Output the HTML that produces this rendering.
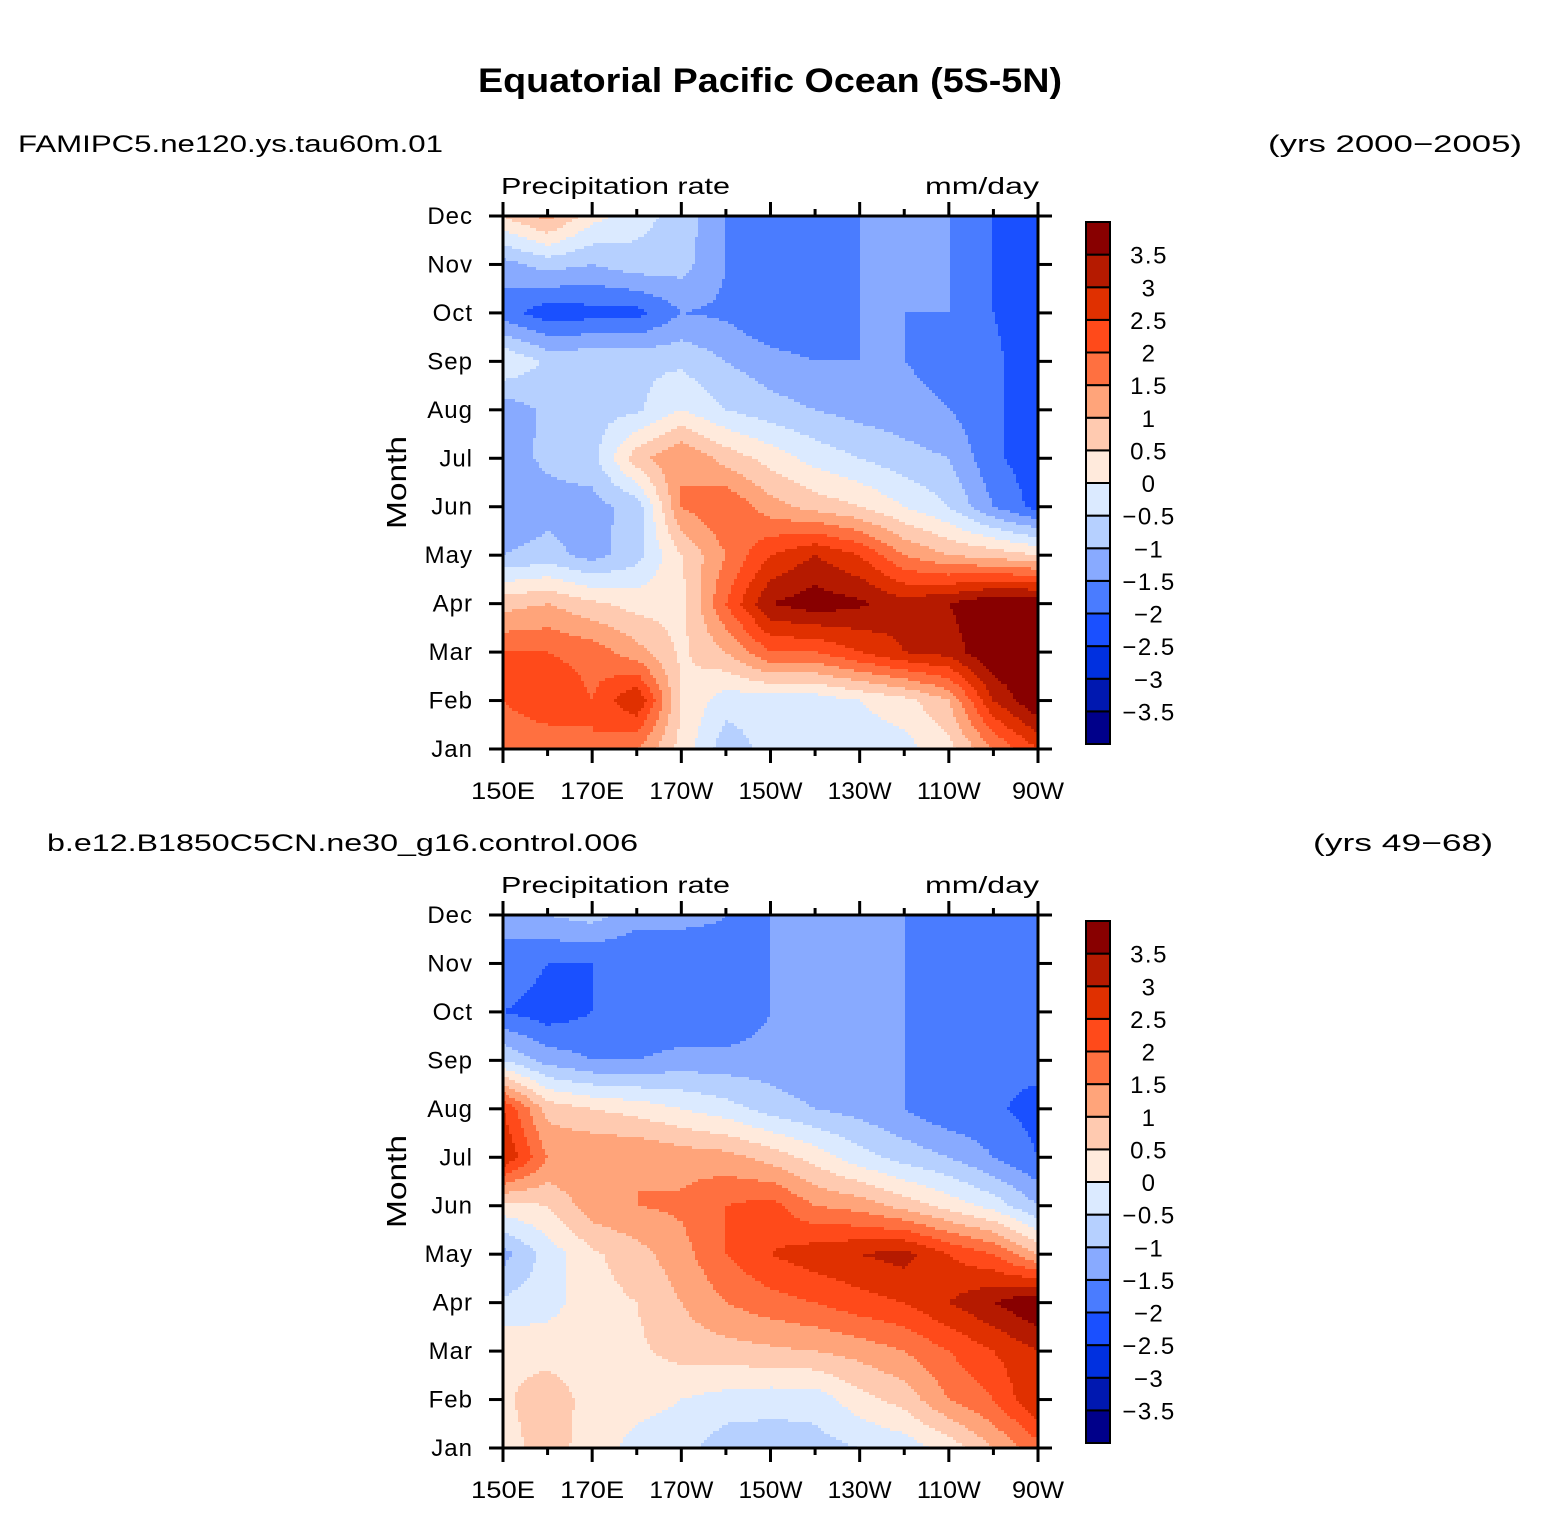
<!DOCTYPE html>
<html><head><meta charset="utf-8"><style>
body{margin:0;background:#fff;}
svg{display:block;font-family:"Liberation Sans",sans-serif;}
</style></head><body>
<svg id="root" width="1541" height="1538" viewBox="0 0 1541 1538" xmlns="http://www.w3.org/2000/svg">
<text x="478" y="92" textLength="584" lengthAdjust="spacingAndGlyphs" font-size="34" font-weight="bold">Equatorial Pacific Ocean (5S-5N)</text>
<g id="p1"></g>
<g id="p2"></g>
</svg>
<script>
const months = ["Jan","Feb","Mar","Apr","May","Jun","Jul","Aug","Sep","Oct","Nov","Dec"];
const lonLabels = ["150E","170E","170W","150W","130W","110W","90W"];
const levels = [-3.5,-3,-2.5,-2,-1.5,-1,-0.5,0,0.5,1,1.5,2,2.5,3,3.5];
const levelLabels = ["−3.5","−3","−2.5","−2","−1.5","−1","−0.5","0","0.5","1","1.5","2","2.5","3","3.5"];
const colors = ["#00008a","#0018b0","#0030e0","#1a50ff","#4a7cff","#88aaff","#b6d0ff","#dbeaff","#ffeadc","#ffcab0","#ffa47a","#ff7040","#ff4a1a","#e03000","#b51a00","#880000"];
// longitudes 150E..90W every 10 deg (13 columns), rows Jan..Dec
const dataTop = [
[1.5,1.5,2,1.5,0.3,-0.8,-0.3,-0.3,-0.3,-0.2,0.3,1.5,2.5],
[2,2.5,2,3,0.5,-0.3,-0.3,-0.3,0,0.3,1,3,4],
[2,2,1.8,1.2,0.4,1,2,2,2.5,3,3.2,4,4],
[0.8,1.0,0.6,0.3,0.3,2,3.5,3.8,3.6,3.2,3.5,4,4],
[-1,-0.8,-1.2,-0.7,0.5,1.5,2.5,3,2.5,1.5,1,0.8,0.5],
[-1.5,-1.2,-1.2,-0.8,1.5,2,1.2,0.8,0.5,0,-0.5,-1.5,-2.2],
[-1.2,-0.9,-0.7,0.8,1.5,0.8,0.3,-0.2,-0.5,-0.8,-1,-1.9,-2.3],
[-1.3,-0.9,-0.7,-0.6,0,-0.5,-0.8,-1,-1.2,-1.3,-1.5,-1.9,-2.3],
[0,-0.6,-0.6,-0.6,-0.6,-1,-1.3,-1.5,-1.5,-1.5,-1.7,-1.9,-2.3],
[-1.8,-2.3,-2.2,-2.2,-1.5,-1.6,-2,-2,-1.5,-1.5,-1.5,-2,-2.3],
[-1.2,-0.8,-1,-0.7,-0.8,-1.5,-1.7,-1.8,-1.5,-1.5,-1.5,-2,-2.2],
[0.5,1.2,0.2,-0.3,-0.7,-1.5,-1.5,-1.5,-1.5,-1.5,-1.5,-2,-2]];
const dataBottom = [
[0.3,0.7,0.3,-0.2,-0.3,-0.8,-0.8,-0.7,-0.5,-0.3,0.2,1,1.8],
[0.4,0.8,0.3,0.2,0,-0.2,-0.3,-0.3,0.3,0.7,1.5,2,3],
[0.4,0.3,0.3,0.4,0.7,0.8,0.9,1,1.2,1.5,2,2.5,3],
[-0.4,-0.2,0.3,0.5,1,1.5,1.8,2,2.3,2.5,3,3.5,4],
[-1.2,-0.3,0.4,0.8,1.3,2,2.5,2.8,3,3.2,2.5,2,1],
[0.3,0.5,1.3,1.5,1.6,2,2.2,1.5,1.3,0.8,0.3,-0.2,-1],
[3,1.5,1.5,1.5,1.3,1.2,0.8,0.3,-0.3,-0.7,-1,-1.5,-2],
[2.5,0.8,0.5,0.3,0,-0.3,-0.7,-1,-1.2,-1.5,-1.9,-1.9,-2.2],
[-0.5,-1.2,-1.5,-1.5,-1.3,-1.3,-1.3,-1.5,-1.5,-1.5,-1.9,-1.9,-1.8],
[-2,-2.3,-2,-2,-2,-2,-1.5,-1.5,-1.5,-1.5,-1.9,-1.9,-1.8],
[-1.5,-2,-2,-2,-2,-1.7,-1.5,-1.5,-1.5,-1.5,-1.7,-1.9,-1.8],
[-1.5,-1,-0.8,-1.3,-1.3,-1.5,-1.5,-1.5,-1.5,-1.5,-1.5,-1.5,-1.5]];

const NS="http://www.w3.org/2000/svg";
function mk(tag,attrs,parent,txt){const e=document.createElementNS(NS,tag);for(const k in attrs)e.setAttribute(k,attrs[k]);if(txt!==undefined)e.textContent=txt;parent.appendChild(e);return e;}
function colorFor(v){let i=0;while(i<levels.length&&v>=levels[i])i++;return colors[i];}

function drawPanel(g,data,oy,leftTitle,leftX,leftW,rightTitle,rightX,rightW){
  const X0=503,X1=1038,Y0=oy,Y1=oy+533;
  const xs=lon=>X0+(lon-150)/120*(X1-X0);
  const ys=m=>Y1-m/11*(Y1-Y0);
  let t=mk('text',{x:leftX,y:oy-64,'font-size':24,textLength:leftW,lengthAdjust:'spacingAndGlyphs'},g,leftTitle);
  
  t=mk('text',{x:rightX-rightW,y:oy-64,'font-size':24,textLength:rightW,lengthAdjust:'spacingAndGlyphs'},g,rightTitle);
  
  t=mk('text',{x:501,y:oy-22,'font-size':23,textLength:229,lengthAdjust:'spacingAndGlyphs'},g,'Precipitation rate');
  
  t=mk('text',{x:925,y:oy-22,'font-size':23,textLength:114,lengthAdjust:'spacingAndGlyphs'},g,'mm/day');
  
  const field=mk('g',{'shape-rendering':'crispEdges'},g);
  
  const step=3;
  const nc=data[0].length, nr=data.length;
  const ncols=Math.ceil((X1-X0)/step), nrows=Math.ceil((Y1-Y0)/step);
  for(let j=0;j<nrows;j++){
    const py=Y0+j*step, h=Math.min(step,Y1-py);
    const m=(Y1-(py+h/2))/(Y1-Y0)*11;
    const r0=Math.max(0,Math.min(nr-2,Math.floor(m))),fr=Math.max(0,Math.min(1,m-r0));
    let runStart=X0,runCol=null;
    for(let i=0;i<=ncols;i++){
      const px=Math.min(X0+i*step,X1);
      let col=null;
      if(i<ncols){
        const w=Math.min(step,X1-px);
        const c=(px+w/2-X0)/(X1-X0)*(nc-1);
        const c0=Math.max(0,Math.min(nc-2,Math.floor(c))),fc=Math.max(0,Math.min(1,c-c0));
        const v=(data[r0][c0]*(1-fc)+data[r0][c0+1]*fc)*(1-fr)+(data[r0+1][c0]*(1-fc)+data[r0+1][c0+1]*fc)*fr;
        col=colorFor(v);
      }
      if(col!==runCol){
        if(runCol!==null){
          const r=mk('rect',{x:runStart,y:py,width:px-runStart+0.6,height:h+0.6,fill:runCol},field);
          
          
        }
        runStart=px;runCol=col;
      }
    }
  }
  const fr2=mk('rect',{x:X0,y:Y0,width:X1-X0,height:Y1-Y0,fill:'none',stroke:'#000','stroke-width':3},g);
  
  months.forEach((mo,i)=>{
    const y=ys(i);
    mk('line',{x1:X0-14,y1:y,x2:X0,y2:y,stroke:'#000','stroke-width':3},g);
    mk('line',{x1:X1,y1:y,x2:X1+14,y2:y,stroke:'#000','stroke-width':3},g);
    const tl=mk('text',{x:473,y:y+8,'font-size':24,'text-anchor':'end','letter-spacing':1},g,mo);
    
  });
  for(let lon=150;lon<=270;lon+=10){
    const x=xs(lon),major=(lon-150)%20===0,len=major?14:7;
    mk('line',{x1:x,y1:Y0-len,x2:x,y2:Y0,stroke:'#000','stroke-width':3},g);
    mk('line',{x1:x,y1:Y1,x2:x,y2:Y1+len,stroke:'#000','stroke-width':3},g);
  }
  lonLabels.forEach((lb,i)=>{
    const w=lb.length===4?64:52;
    const tl=mk('text',{x:xs(150+i*20)-w/2,y:Y1+50,'font-size':24,textLength:w,lengthAdjust:'spacingAndGlyphs'},g,lb);
    
  });
  const cyM=(Y0+Y1)/2;
  const yt=mk('text',{x:cyM-46.5,y:0,'font-size':28,textLength:93,lengthAdjust:'spacingAndGlyphs',transform:`translate(406 ${2*cyM}) rotate(-90)`},g,'Month');
  yt.setAttribute('transform',`rotate(-90) translate(${-2*cyM} 406)`);
  
  const cb=mk('g',{},g);
  
  const cy0=Y0+6,cy1=Y1-5,bh=(cy1-cy0)/colors.length;
  colors.forEach((c,i)=>{
    const y=cy1-(i+1)*bh;
    const r=mk('rect',{x:1086,y:y,width:24,height:bh,fill:c,stroke:'#000','stroke-width':2},cb);
    
  });
  levelLabels.forEach((lb,i)=>{
    const y=cy1-(i+1)*bh;
    const tl=mk('text',{x:1149,y:y+9,'font-size':24,'text-anchor':'middle','letter-spacing':1.5},cb,lb);
    
  });
}
drawPanel(document.getElementById('p1'),dataTop,216,'FAMIPC5.ne120.ys.tau60m.01',18,425,'(yrs 2000−2005)',1522,254);
drawPanel(document.getElementById('p2'),dataBottom,915,'b.e12.B1850C5CN.ne30_g16.control.006',47,591,'(yrs 49−68)',1493,180);
</script>
</body></html>
